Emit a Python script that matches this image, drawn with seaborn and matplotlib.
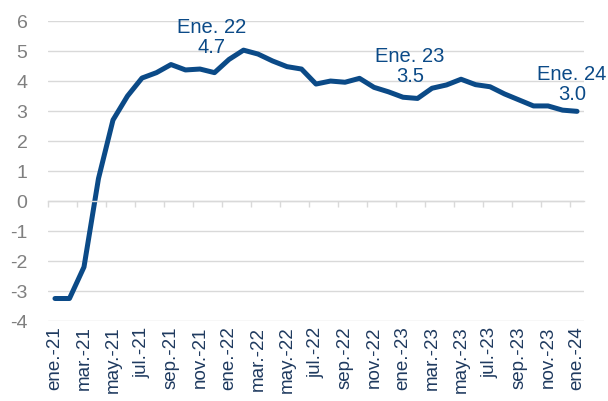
import numpy as np
import pandas as pd
import matplotlib
matplotlib.use("Agg")
import matplotlib.pyplot as plt
import seaborn as sns

months = ["ene.", "feb.", "mar.", "abr.", "may.", "jun.",
          "jul.", "ago.", "sep.", "oct.", "nov.", "dic."]
periods = [f"{m}-{y}" for y in ["21", "22", "23"] for m in months] + ["ene.-24"]

values = [-3.25, -3.25, -2.2, 0.75, 2.7, 3.5, 4.1, 4.28, 4.55, 4.37, 4.4, 4.28,
          4.72, 5.03, 4.9, 4.67, 4.48, 4.4, 3.9, 4.0, 3.96, 4.09, 3.79, 3.64,
          3.46, 3.42, 3.76, 3.87, 4.06, 3.88, 3.81, 3.57, 3.37, 3.17, 3.17, 3.03,
          2.99]

notes = ["Ene. 22\n4.7", "Ene. 23\n3.5", "Ene. 24\n3.0"]
note_idx = [12, 24, 36]
note_offsets = [(-17, 2), (7, 11), (-5, 7)]  # pixels

BLUE = "#0b4a87"
NAVY = "#1f3a5f"
GRID = "#d9d9d9"

sns.set_style("white")
plt.rcParams["font.family"] = ["Liberation Sans", "DejaVu Sans"]
plt.rcParams["axes.unicode_minus"] = False

df = pd.DataFrame({"pos": np.arange(len(values)), "value": values})

fig = plt.figure(figsize=(6.08, 4.01), dpi=100)
ax = fig.add_axes([0.0785, 0.1995, 0.8825, 0.748])

sns.lineplot(data=df, x="pos", y="value", ax=ax, color=BLUE, linewidth=3.6,
             solid_joinstyle="round", solid_capstyle="round")

ax.set_xlim(-0.5, len(values) - 0.5)
ax.set_ylim(-4, 6)
ax.set_yticks(range(-4, 7))
ax.yaxis.grid(True, color=GRID, linewidth=1)
ax.set_axisbelow(True)
ax.set_xlabel("")
ax.set_ylabel("")

for s in ["top", "right", "left"]:
    ax.spines[s].set_visible(False)
ax.spines["bottom"].set_position(("data", 0))
ax.spines["bottom"].set_color(GRID)
ax.spines["bottom"].set_linewidth(1)

# tick marks at category boundaries on the zero line
ax.set_xticks(np.arange(-0.5, len(values) - 1, 2))
ax.tick_params(axis="x", bottom=True, length=4.5, width=1, color=GRID,
               direction="out", labelbottom=False)
ax.tick_params(axis="y", left=False, labelsize=14, labelcolor="#7f7f7f", pad=11)

# category labels along the bottom
sec = ax.secondary_xaxis("bottom")
sec.set_xticks(np.arange(0, len(values), 2))
sec.set_xticklabels(periods[::2], rotation=90)
sec.tick_params(length=0, pad=4, labelsize=13.5, labelcolor=NAVY)
sec.spines["bottom"].set_visible(False)

for txt, i, (dx, dy) in zip(notes, note_idx, note_offsets):
    ax.annotate(txt, xy=(i, values[i]), xytext=(dx, dy), textcoords="offset pixels",
                ha="center", va="bottom", fontsize=14.5, color=BLUE, linespacing=1.1)

fig.savefig("out.png", dpi=100)
